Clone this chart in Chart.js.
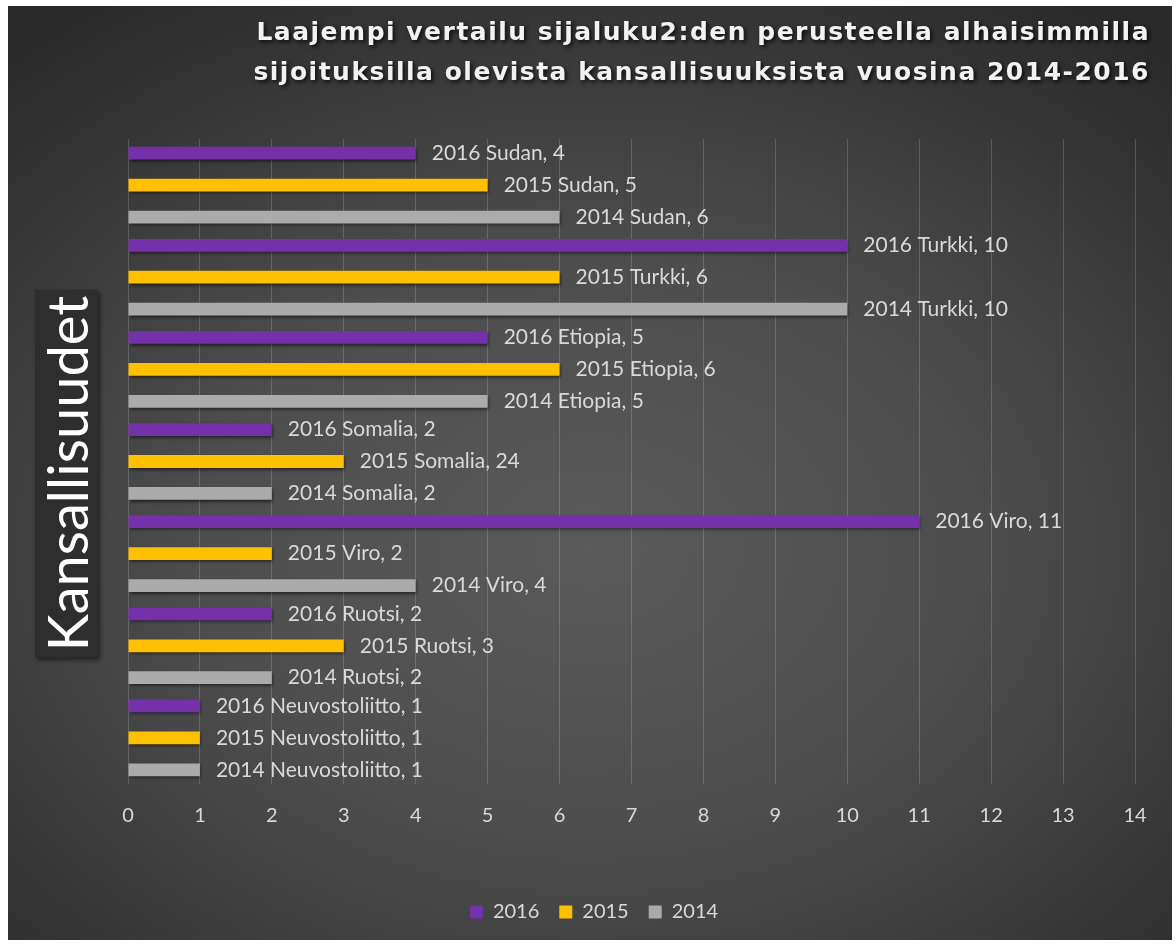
<!DOCTYPE html>
<html>
<head>
<meta charset="utf-8">
<script src="https://cdn.jsdelivr.net/npm/chart.js@4/dist/chart.umd.min.js"></script>
<style>
  body { margin: 0; background: #ffffff; }
  #wrap {
    position: absolute; left: 8px; top: 6px; width: 1164px; height: 934px;
    background: radial-gradient(ellipse 75% 70% at 50% 58%, #5a5a5a 0%, #4d4d4d 45%, #3a3a3a 75%, #2a2a2a 100%);
  }
</style>
</head>
<body>
<div id="wrap"><canvas id="chart" width="1164" height="934"></canvas></div>
<script>
// --- DATA ---
const categories = ["Sudan", "Turkki", "Etiopia", "Somalia", "Viro", "Ruotsi", "Neuvostoliitto"];
const years = ["2016", "2015", "2014"];
const values2016 = [4, 10, 5, 2, 11, 2, 1];
const values2015 = [5, 6, 6, 3, 2, 3, 1];
const values2014 = [6, 10, 5, 2, 4, 2, 1];
// numbers printed in the data labels (2015 Somalia reads 24 although the bar stops at 3)
const labels2016 = [4, 10, 5, 2, 11, 2, 1];
const labels2015 = [5, 6, 6, 24, 2, 3, 1];
const labels2014 = [6, 10, 5, 2, 4, 2, 1];
const xTicks = [0, 1, 2, 3, 4, 5, 6, 7, 8, 9, 10, 11, 12, 13, 14];

const colors = ["#7431aa", "#ffc000", "#ababab"];
const labelFont = "Lato, 'Open Sans', sans-serif";

// bar shadow + data labels "2016 Sudan, 4"
const barLabels = {
  id: "barLabels",
  beforeDatasetsDraw(chart) {
    const ctx = chart.ctx;
    ctx.save();
    ctx.shadowColor = "rgba(0,0,0,0.55)";
    ctx.shadowOffsetY = 2;
    ctx.shadowOffsetX = 1;
    ctx.shadowBlur = 3;
  },
  afterDatasetsDraw(chart) {
    const ctx = chart.ctx;
    ctx.restore();
    ctx.save();
    ctx.font = "21px " + labelFont;
    ctx.fillStyle = "#d9d9d9";
    ctx.textAlign = "left";
    ctx.textBaseline = "middle";
    chart.data.datasets.forEach((ds, i) => {
      chart.getDatasetMeta(i).data.forEach((bar, j) => {
        ctx.fillText(ds.label + " " + categories[j] + ", " + ds.shown[j], bar.x + 16, bar.y);
      });
    });
    ctx.restore();
  }
};

// wider letter spacing and a soft shadow for the title
const titleStyle = {
  id: "titleStyle",
  beforeDraw(chart) {
    const t = chart.titleBlock;
    if (!t || t._styled) return;
    const orig = t.draw.bind(t);
    t.draw = function () {
      const ctx = chart.ctx;
      ctx.save();
      ctx.letterSpacing = "1.5px";
      ctx.shadowColor = "rgba(0,0,0,0.8)";
      ctx.shadowBlur = 4;
      ctx.shadowOffsetX = 2;
      ctx.shadowOffsetY = 2;
      orig();
      ctx.restore();
    };
    t._styled = true;
  }
};

// dark box with the vertical axis title
const axisBox = {
  id: "axisBox",
  afterDraw(chart) {
    const ctx = chart.ctx;
    const area = chart.chartArea;
    const cy = (area.top + area.bottom) / 2 + 12;
    ctx.save();
    ctx.shadowColor = "rgba(0,0,0,0.5)";
    ctx.shadowBlur = 4;
    ctx.shadowOffsetX = 2;
    ctx.shadowOffsetY = 2;
    ctx.fillStyle = "#2e2e2e";
    ctx.fillRect(area.left - 93, cy - 184, 63, 368);
    ctx.restore();
    ctx.save();
    ctx.translate(area.left - 60, cy);
    ctx.rotate(-Math.PI / 2);
    ctx.font = "56px " + labelFont;
    ctx.fillStyle = "#ffffff";
    ctx.textAlign = "center";
    ctx.textBaseline = "middle";
    ctx.fillText("Kansallisuudet", 0, 2);
    ctx.restore();
  }
};

new Chart(document.getElementById("chart"), {
  type: "bar",
  data: {
    labels: categories,
    datasets: [
      { label: years[0], data: values2016, shown: labels2016, backgroundColor: colors[0] },
      { label: years[1], data: values2015, shown: labels2015, backgroundColor: colors[1] },
      { label: years[2], data: values2014, shown: labels2014, backgroundColor: colors[2] }
    ]
  },
  options: {
    indexAxis: "y",
    responsive: false,
    animation: false,
    categoryPercentage: 1.04,
    barPercentage: 0.4,
    layout: { padding: { left: 30, right: 22, top: 0, bottom: 8 } },
    plugins: {
      tooltip: { enabled: false },
      title: {
        display: true,
        align: "end",
        text: ["Laajempi vertailu sijaluku2:den perusteella alhaisimmilla",
               "sijoituksilla olevista kansallisuuksista vuosina 2014-2016"],
        color: "#f2f2f2",
        font: { family: "'DejaVu Sans', sans-serif", size: 25, weight: "bold", lineHeight: "40px" },
        padding: { top: 7, bottom: 46 }
      },
      legend: {
        position: "bottom",
        labels: {
          color: "#d9d9d9",
          font: { family: labelFont, size: 20 },
          boxWidth: 13,
          boxHeight: 13,
          padding: 20
        }
      }
    },
    scales: {
      x: {
        min: 0,
        max: 14,
        afterBuildTicks: s => { s.ticks = xTicks.map(v => ({ value: v })); },
        afterFit: s => { s.height = 98; s.paddingRight = 37; },
        grid: { color: "rgba(255,255,255,0.17)", drawTicks: false },
        border: { display: false },
        ticks: { color: "#d9d9d9", font: { family: labelFont, size: 20 }, padding: 20 }
      },
      y: {
        afterFit: s => { s.width = 90; },
        grid: { display: false },
        border: { display: false },
        ticks: { display: false }
      }
    }
  },
  plugins: [barLabels, axisBox, titleStyle]
});
</script>
</body>
</html>
